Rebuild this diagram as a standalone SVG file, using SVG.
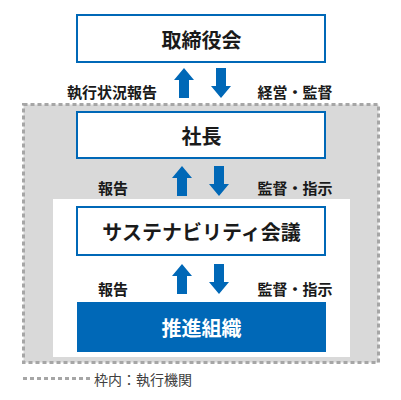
<svg xmlns="http://www.w3.org/2000/svg" width="401" height="400" viewBox="0 0 401 400">
<defs>
<style>
.box{fill:#ffffff;stroke:#0068b7;stroke-width:2}
.t{font-family:"Noto Sans CJK JP","Noto Sans",sans-serif;font-weight:bold;font-size:20px;fill:#1a1a1a;text-anchor:middle;dominant-baseline:central}
.lb{font-family:"Noto Sans CJK JP","Noto Sans",sans-serif;font-weight:bold;font-size:15px;fill:#1a1a1a;text-anchor:middle;dominant-baseline:central}
.ar{fill:#0068b7}
.dash{fill:none;stroke:#a6a6a6;stroke-width:3;stroke-dasharray:4 3}
</style>
<path id="up" d="M0,0 L10,12 L5,12 L5,30 L-5,30 L-5,12 L-10,12 Z"/>
<path id="down" d="M-5,0 L5,0 L5,18 L10,18 L0,30 L-10,18 L-5,18 Z"/>
</defs>
<rect width="401" height="400" fill="#ffffff"/>
<g id="exec-frame">
<rect x="23.5" y="104.5" width="355" height="258" fill="#d9d9d9"/>
<rect x="23.5" y="104.5" width="355" height="258" class="dash"/>
<rect x="53" y="199" width="297" height="158" fill="#ffffff"/>
</g>
<g id="board">
<rect class="box" x="77" y="15" width="248" height="47"/>
<text class="t" x="201.5" y="39">取締役会</text>
</g>
<g id="president">
<rect class="box" x="77" y="112" width="248" height="46"/>
<text class="t" x="201.5" y="135">社長</text>
</g>
<g id="sustainability">
<rect class="box" x="77" y="207" width="248" height="48"/>
<text class="t" x="201.5" y="231">サステナビリティ会議</text>
</g>
<g id="promotion">
<rect x="77" y="302" width="249" height="50" fill="#0068b7"/>
<text class="t" x="201.5" y="327" style="fill:#ffffff">推進組織</text>
</g>
<g id="connectors">
<use href="#up" class="ar" x="184" y="68"/>
<use href="#down" class="ar" x="221" y="68"/>
<use href="#up" class="ar" x="182" y="166"/>
<use href="#down" class="ar" x="219" y="166"/>
<use href="#up" class="ar" x="182" y="264"/>
<use href="#down" class="ar" x="219" y="264"/>
<text class="lb" x="112" y="91">執行状況報告</text>
<text class="lb" x="295" y="91">経営・監督</text>
<text class="lb" x="113" y="187">報告</text>
<text class="lb" x="295" y="187">監督・指示</text>
<text class="lb" x="113" y="288">報告</text>
<text class="lb" x="295" y="288">監督・指示</text>
</g>
<g id="legend">
<line x1="23" y1="378.5" x2="90" y2="378.5" class="dash"/>
<text x="94" y="379" style="font-family:'Noto Sans CJK JP','Noto Sans',sans-serif;font-size:14px;fill:#404040;dominant-baseline:central">枠内：執行機関</text>
</g>
</svg>
